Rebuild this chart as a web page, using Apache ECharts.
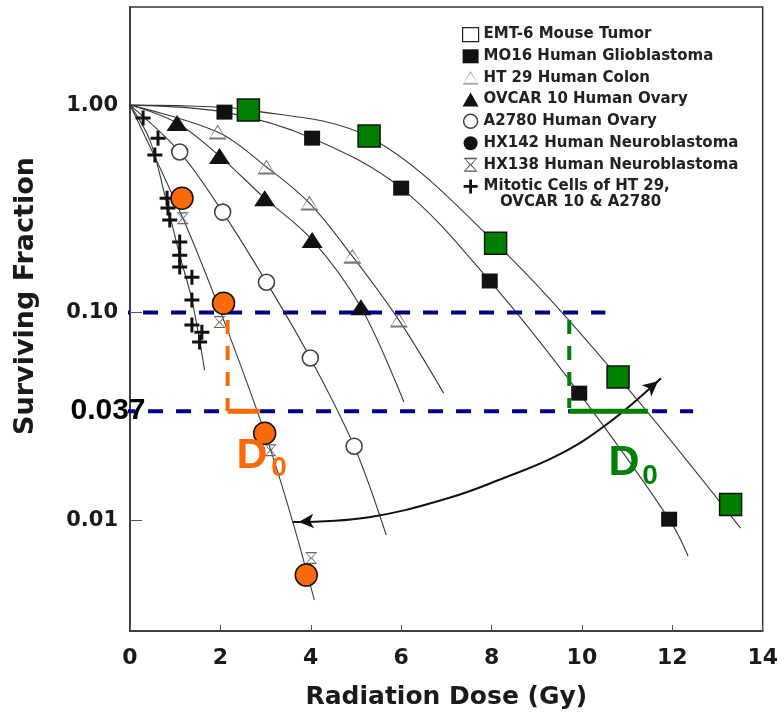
<!DOCTYPE html>
<html><head><meta charset="utf-8">
<script src="https://cdn.jsdelivr.net/npm/echarts@6/dist/echarts.min.js"></script>
<style>html,body{margin:0;padding:0;background:#fff}#c{width:781px;height:717px}</style>
</head><body><div id="c"></div>
<script>
// ---------- axes ----------
const xTicks = [0, 2, 4, 6, 8, 10, 12, 14];
const yTicks = [1.0, 0.1, 0.01];
const yRange = [0.00292, 2.97];
const xTitle = 'Radiation Dose (Gy)';
const yTitle = 'Surviving Fraction';

// ---------- measured points (dose Gy, surviving fraction) ----------
const emt6    = [[2.62,0.946],[5.29,0.709],[8.09,0.216],[10.80,0.0489],[13.29,0.0119]];
const mo16    = [[2.09,0.925],[4.03,0.693],[6.00,0.398],[7.96,0.142],[9.94,0.0409],[11.93,0.0101]];
const ht29    = [[1.94,0.741],[3.02,0.503],[3.97,0.337],[4.92,0.187],[5.95,0.092]];
const ovcar10 = [[1.04,0.819],[1.98,0.568],[2.98,0.356],[4.03,0.224],[5.11,0.106]];
const a2780   = [[1.10,0.594],[2.05,0.305],[3.02,0.140],[3.99,0.0604],[4.96,0.0227]];
const hx142   = [[1.15,0.356],[2.07,0.111],[2.98,0.0262],[3.90,0.00543]];
const hx138   = [[1.17,0.285],[1.98,0.090],[3.11,0.0217],[4.01,0.00656]];
const mitotic = [[0.29,0.866],[0.62,0.693],[0.55,0.574],[0.82,0.356],[0.84,0.319],[0.88,0.279],
                 [1.10,0.219],[1.10,0.189],[1.10,0.166],[1.37,0.148],[1.37,0.115],[1.37,0.0871],
                 [1.59,0.0805],[1.54,0.0721]];

// ---------- fitted curves ----------
const fitEMT6    = [[0,1.0],[1.32,0.99],[2.65,0.946],[5.29,0.701],[8.09,0.216],[10.80,0.0489],[13.51,0.00915]];
const fitMO16    = [[0,1.0],[2.09,0.925],[4.03,0.693],[6.00,0.398],[7.96,0.142],[9.94,0.0409],[11.93,0.0101],[12.35,0.00671]];
const fitHT29    = [[0,1.0],[1.94,0.741],[3.02,0.503],[3.97,0.337],[4.92,0.187],[5.95,0.092],[6.94,0.0409]];
const fitOVCAR   = [[0,1.0],[1.04,0.819],[1.98,0.568],[2.98,0.356],[4.03,0.224],[5.11,0.106],[6.06,0.0371]];
const fitA2780   = [[0,1.0],[1.10,0.594],[2.05,0.305],[3.02,0.140],[3.99,0.0604],[4.96,0.0227],[5.67,0.00847]];
const fitHX      = [[0,1.0],[1.17,0.285],[2.01,0.100],[3.04,0.0243],[3.59,0.0100],[4.08,0.00411]];
const fitMitotic = [[0,1.0],[0.44,0.678],[0.77,0.368],[1.10,0.189],[1.37,0.115],[1.65,0.0528]];

// ---------- annotations ----------
const arrowCurve = [[3.60,0.00978],[5.29,0.01033],[7.05,0.01277],[8.16,0.0156],[9.48,0.0206],[10.58,0.0293],[11.75,0.0483]];
const refUpper    = [[-0.95,0.1],[10.52,0.1]];
const refLower    = [[-0.22,0.0335],[12.46,0.0335]];
const orangeDash  = [[2.16,0.092],[2.16,0.0335]];
const orangeSolid = [[2.16,0.0335],[2.87,0.0335]];
const greenDash   = [[9.72,0.092],[9.72,0.0347]];
const greenSolid  = [[9.72,0.0335],[11.46,0.0335]];
const refLowerLabel = '0.037';

const FONT = 'DejaVu Sans';
const INK = '#1a1a1a';
const ORANGE = '#fa6a0a';
const GREEN = '#008000';
const NAVY = '#000080';

const triOutline = 'path://M10,0L20,17L0,17Z M10,2.5L1.8,14.6L18.2,14.6Z';
const hourglass  = 'path://M0,0H20L11.5,10L20,20H0L8.5,10Z M3,2L10,9.3L17,2Z M10,10.7L3,18H17Z';
const plus       = 'path://M8,0h4v8h8v4h-8v8h-4v-8h-8v-4h8z';

function curve(name, data) {
  return { name, type: 'line', data, symbol: 'none', smooth: 0.35, silent: true, z: 2,
           lineStyle: { color: '#3a3a3a', width: 1.1 } };
}
function straight(name, data, color, width, dash) {
  return { name, type: 'line', data, symbol: 'none', silent: true, clip: false, z: 6,
           lineStyle: { color, width, type: dash || 'solid' } };
}
function pts(name, data, symbol, size, style, z) {
  return { name, type: 'scatter', data, symbol, symbolSize: size, z: z || 4, silent: true,
           itemStyle: Object.assign({ opacity: 1 }, style) };
}

const chart = echarts.init(document.getElementById('c'), null, { renderer: 'canvas' });
chart.setOption({
  animation: false,
  backgroundColor: '#fff',
  grid: { left: 130, right: 16, top: 7, bottom: 86, show: true, borderColor: '#333', borderWidth: 1.5 },
  xAxis: {
    type: 'value', min: xTicks[0], max: xTicks[xTicks.length - 1], interval: 2,
    name: xTitle, nameLocation: 'middle', nameGap: 54,
    nameTextStyle: { fontFamily: FONT, fontWeight: 'bold', fontSize: 25, color: INK },
    axisLine: { lineStyle: { color: '#333', width: 1.5 } },
    axisTick: { inside: true, length: 6, lineStyle: { color: '#555' } },
    axisLabel: { margin: 16, fontFamily: FONT, fontWeight: 'bold', fontSize: 22, color: INK },
    splitLine: { show: false }
  },
  yAxis: {
    type: 'log', logBase: 10, min: yRange[0], max: yRange[1], splitNumber: 3,
    axisLine: { show: true, lineStyle: { color: '#333', width: 1.5 } },
    axisTick: { show: true, inside: true, length: 12, lineStyle: { color: '#555' } },
    axisLabel: {
      margin: 12, fontFamily: FONT, fontWeight: 'bold', fontSize: 21, color: INK,
      showMinLabel: false, showMaxLabel: false,
      formatter: v => yTicks.some(t => Math.abs(Math.log10(v / t)) < 0.01) ? v.toFixed(2) : ''
    },
    splitLine: { show: false }
  },
  legend: {
    orient: 'vertical', left: 457, top: 22, itemWidth: 16, itemHeight: 14, itemGap: 6.6,
    selectedMode: false,
    textStyle: { fontFamily: FONT, fontWeight: 'bold', fontSize: 15, color: '#222' },
    data: [
      { name: 'EMT-6 Mouse Tumor', icon: 'rect', itemStyle: { color: '#fff', borderColor: '#222', borderWidth: 1.2, opacity: 1 } },
      { name: 'MO16 Human Glioblastoma', icon: 'rect', itemStyle: { color: '#111', borderWidth: 0, opacity: 1 } },
      { name: 'HT 29 Human Colon', icon: triOutline, itemStyle: { color: '#aaa', opacity: 1 } },
      { name: 'OVCAR 10 Human Ovary', icon: 'triangle', itemStyle: { color: '#111', opacity: 1 } },
      { name: 'A2780 Human Ovary', icon: 'circle', itemStyle: { color: '#fff', borderColor: '#444', borderWidth: 1.5, opacity: 1 } },
      { name: 'HX142 Human Neuroblastoma', icon: 'circle', itemStyle: { color: '#111', borderWidth: 0, opacity: 1 } },
      { name: 'HX138 Human Neuroblastoma', icon: hourglass, itemStyle: { color: '#555', opacity: 1 } },
      { name: 'Mitotic Cells of HT 29,', icon: plus, itemStyle: { color: '#111', opacity: 1 } }
    ]
  },
  graphic: [
    { type: 'text', x: 26, y: 296, rotation: Math.PI / 2,
      style: { text: yTitle, align: 'center', verticalAlign: 'middle', fontFamily: FONT, fontWeight: 'bold', fontSize: 27, fill: INK } },
    { type: 'text', left: 500, top: 195, style: { text: 'OVCAR 10 & A2780', fontFamily: FONT, fontWeight: 'bold', fontSize: 15, fill: '#222' } },
    { type: 'text', x: 108, y: 411, style: { text: refLowerLabel, align: 'center', verticalAlign: 'middle', fontFamily: 'Liberation Sans', fontWeight: 'bold', fontSize: 30, fill: '#000' }, z: 20 },
    { type: 'text', x: 252, y: 456, style: { text: 'D', align: 'center', verticalAlign: 'middle', fontFamily: 'Liberation Sans', fontWeight: 'bold', fontSize: 43, fill: ORANGE }, z: 20 },
    { type: 'text', x: 279, y: 468, style: { text: '0', align: 'center', verticalAlign: 'middle', fontFamily: 'Liberation Sans', fontWeight: 'bold', fontSize: 28, fill: ORANGE }, z: 20 },
    { type: 'text', x: 624, y: 463, style: { text: 'D', align: 'center', verticalAlign: 'middle', fontFamily: 'Liberation Sans', fontWeight: 'bold', fontSize: 43, fill: GREEN }, z: 20 },
    { type: 'text', x: 650, y: 476, style: { text: '0', align: 'center', verticalAlign: 'middle', fontFamily: 'Liberation Sans', fontWeight: 'bold', fontSize: 28, fill: GREEN }, z: 20 }
  ],
  series: [
    curve('fitEMT6', fitEMT6), curve('fitMO16', fitMO16), curve('fitHT29', fitHT29),
    curve('fitOVCAR', fitOVCAR), curve('fitA2780', fitA2780), curve('fitHX', fitHX),
    curve('fitMitotic', fitMitotic),
    { name: 'arrow', type: 'line', data: arrowCurve, symbol: 'none', smooth: 0.4, silent: true, z: 3,
      lineStyle: { color: '#111', width: 2 } },
    { name: 'arrowHeads', type: 'scatter', silent: true, z: 3, symbol: 'arrow', symbolSize: [11, 15],
      itemStyle: { color: '#111', opacity: 1 },
      data: [
        { value: arrowCurve[0], symbolRotate: 94, symbolOffset: [6, 0] },
        { value: arrowCurve[arrowCurve.length - 1], symbolRotate: -50, symbolOffset: [-3, 3] }
      ] },
    pts('Mitotic Cells of HT 29,', mitotic, plus, 15, { color: '#111' }),
    pts('HX138 Human Neuroblastoma', hx138, hourglass, 12, { color: '#666' }),
    pts('A2780 Human Ovary', a2780, 'circle', 16, { color: '#fff', borderColor: '#444', borderWidth: 1.6 }),
    pts('HT 29 Human Colon', ht29, triOutline, [18, 15], { color: '#777' }),
    pts('OVCAR 10 Human Ovary', ovcar10, 'triangle', [21, 16], { color: '#111' }),
    pts('MO16 Human Glioblastoma', mo16, 'rect', [16, 15], { color: '#111' }),
    straight('refUpper', refUpper, NAVY, 4, [15, 13]),
    straight('refLower', refLower, NAVY, 4, [15, 13]),
    straight('orangeDash', orangeDash, ORANGE, 4, [14, 12]),
    straight('orangeSolid', orangeSolid, ORANGE, 5),
    straight('greenDash', greenDash, GREEN, 4, [14, 12]),
    straight('greenSolid', greenSolid, GREEN, 5),
    pts('EMT-6 Mouse Tumor', emt6, 'rect', 22, { color: GREEN, borderColor: '#111', borderWidth: 1.5 }, 8),
    pts('HX142 Human Neuroblastoma', hx142, 'circle', 22, { color: ORANGE, borderColor: '#111', borderWidth: 1.5 }, 8)
  ]
});
</script></body></html>
